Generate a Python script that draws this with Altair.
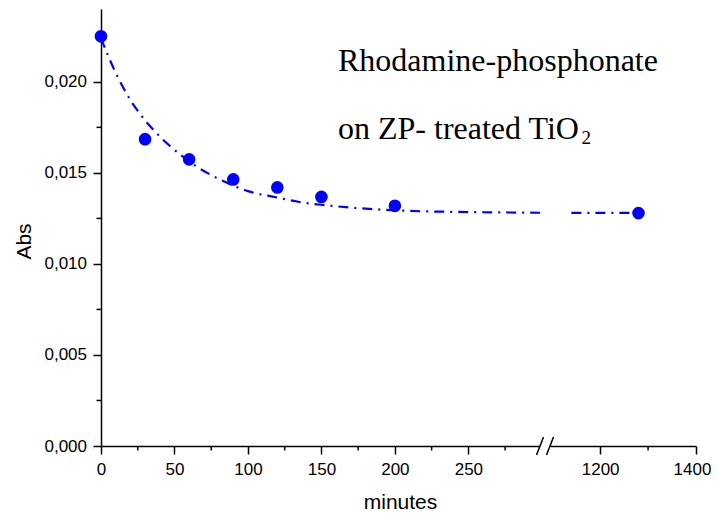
import altair as alt
import pandas as pd

# ---- data ----
minutes = [0, 30, 60, 90, 120, 150, 200, 1280]
absorbance = [0.0225, 0.01685, 0.01574, 0.01464, 0.0142, 0.01368, 0.01319, 0.01279]

fit_minutes_left = [0, 5, 10, 15, 20, 26, 33, 40, 48, 56, 65, 75, 85, 100, 119, 135,
                    153, 169, 187, 207, 239, 270, 300]
fit_abs_left = [0.0224, 0.0214, 0.0205, 0.0197, 0.0190, 0.0183, 0.0176, 0.0170, 0.0164,
                0.01588, 0.01535, 0.01488, 0.01448, 0.0140, 0.01366, 0.0134, 0.01322,
                0.0131, 0.0130, 0.01292, 0.01286, 0.01283, 0.01281]
fit_minutes_right = [1140, 1280]
fit_abs_right = [0.0128, 0.0128]

x_major = [0, 50, 100, 150, 200, 250, 1200, 1400]
x_minor = [25, 75, 125, 175, 225, 275, 1300]
y_major = [0.0, 0.005, 0.010, 0.015, 0.020]
y_minor = [0.0025, 0.0075, 0.0125, 0.0175, 0.0225]

note_line1 = "Rhodamine-phosphonate"
note_line2 = "on ZP- treated TiO"
note_sub = "2"
x_title = "minutes"
y_title = "Abs"

# ---- broken x axis: 0-300 then 1100-1400 (compressed) ----
BREAK_LO, BREAK_HI, X_END = 300, 1100, 1400
GAP = 7.07
R = 0.3261


def disp(v):
    return v if v <= BREAK_LO else BREAK_LO + GAP + (v - BREAK_HI) * R


calc = f"datum.m <= {BREAK_LO} ? datum.m : {BREAK_LO + GAP} + (datum.m - {BREAK_HI}) * {R}"
inv_label = (f"datum.value <= {BREAK_LO + 1} ? format(datum.value, 'd') : "
             f"format(round((datum.value - {BREAK_LO + GAP}) / {R} + {BREAK_HI}), 'd')")

W, H = 595, 437
BLUE = "#0000ff"

xscale = alt.Scale(domain=[0, disp(X_END)], nice=False, zero=False)
yscale = alt.Scale(domain=[0, 0.024], nice=False)

pts = pd.DataFrame({"m": minutes, "a": absorbance})
fit = pd.DataFrame({
    "m": fit_minutes_left + fit_minutes_right,
    "a": fit_abs_left + fit_abs_right,
    "seg": ["left"] * len(fit_minutes_left) + ["right"] * len(fit_minutes_right),
})

x_axis = alt.Axis(values=[disp(v) for v in x_major], labelExpr=inv_label,
                  labelOffset={"condition": {"test": f"datum.value > {disp(1300)}", "value": -4},
                               "value": 0},
                  title=x_title, titleX=299, titleY=62, titleBaseline="alphabetic",
                  titleAlign="center", labelPadding=7, tickSize=8, zindex=0)
y_axis = alt.Axis(values=y_major, labelExpr="replace(format(datum.value, '.3f'), '.', ',')",
                  title=y_title, titleX=-71, titleY=232, titleAngle=270,
                  titleBaseline="alphabetic", titleAlign="center",
                  labelPadding=6.5, tickSize=8, zindex=0)

X = alt.X("xd:Q", scale=xscale, axis=x_axis)
Y = alt.Y("a:Q", scale=yscale, axis=y_axis)

line = alt.Chart(fit).transform_calculate(xd=calc).mark_line(
    color=BLUE, strokeWidth=2.2, strokeDash=[10, 6, 2, 6], interpolate="monotone"
).encode(x=X, y=Y, detail="seg:N")

points = alt.Chart(pts).transform_calculate(xd=calc).mark_point(
    shape="circle", filled=True, size=160, color=BLUE, opacity=1
).encode(x=X, y=Y)

xminor = alt.Chart(pd.DataFrame({"m": x_minor})).transform_calculate(xd=calc).mark_rule(
    color="black", strokeWidth=1.5
).encode(x=X, y=alt.value(H), y2=alt.value(H + 4.5))

yminor = alt.Chart(pd.DataFrame({"a": y_minor})).mark_rule(
    color="black", strokeWidth=1.5
).encode(y=Y, x=alt.value(-4.5), x2=alt.value(0))

# axis break: hide the axis line between the slashes and draw "//"
gap_cover = alt.Chart(pd.DataFrame({"k": [0]})).mark_rect(color="white").encode(
    x=alt.value(439), x2=alt.value(449.5), y=alt.value(H - 3), y2=alt.value(H + 3)
)
slash1 = alt.Chart(pd.DataFrame({"k": [0]})).mark_rule(color="black", strokeWidth=1.5).encode(
    x=alt.value(435.5), y=alt.value(H + 9), x2=alt.value(442.5), y2=alt.value(H - 9)
)
slash2 = alt.Chart(pd.DataFrame({"k": [0]})).mark_rule(color="black", strokeWidth=1.5).encode(
    x=alt.value(445.5), y=alt.value(H + 9), x2=alt.value(452.5), y2=alt.value(H - 9)
)

txt_style = dict(align="left", baseline="alphabetic", font="Liberation Serif", color="black")
t1 = alt.Chart(pd.DataFrame({"t": [note_line1]})).mark_text(fontSize=32, **txt_style).encode(
    x=alt.value(237), y=alt.value(61.5), text="t:N")
t2 = alt.Chart(pd.DataFrame({"t": [note_line2]})).mark_text(fontSize=32, **txt_style).encode(
    x=alt.value(237), y=alt.value(130), text="t:N")
t3 = alt.Chart(pd.DataFrame({"t": [note_sub]})).mark_text(fontSize=19, **txt_style).encode(
    x=alt.value(480.5), y=alt.value(134.5), text="t:N")

chart = alt.layer(
    line, xminor, yminor, gap_cover, slash1, slash2, points, t1, t2, t3
).properties(
    width=W, height=H,
    autosize=alt.AutoSizeParams(type="none"),
    padding={"left": 93, "top": 1, "right": 15, "bottom": 67},
).configure_view(stroke=None).configure_axis(
    grid=False,
    labelFont="Liberation Sans", labelFontSize=17, labelColor="black",
    titleFont="Liberation Sans", titleFontSize=21, titleFontWeight="normal", titleColor="black",
    domainColor="black", domainWidth=1.5, tickColor="black", tickWidth=1.5,
    labelFlush=False, labelOverlap=False,
)

chart.save("out.html", embed_options={"renderer": "svg", "actions": False})
